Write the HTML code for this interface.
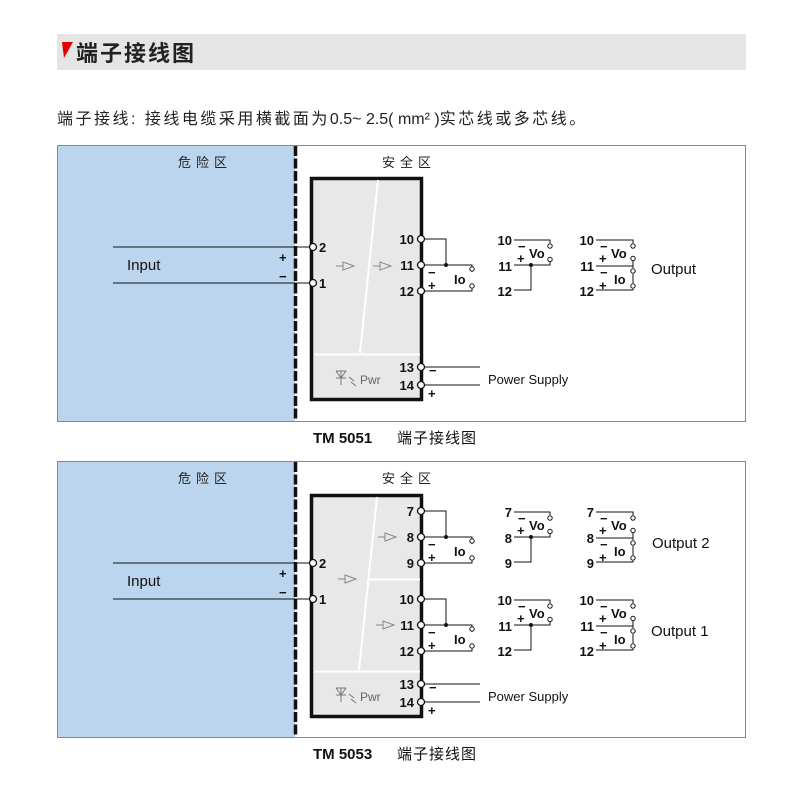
<!DOCTYPE html>
<html><head><meta charset="utf-8"><style>
body{margin:0;background:#fff}
svg{display:block;font-family:"Liberation Sans","Noto Sans CJK SC",sans-serif}
.t{font-size:13px;font-weight:bold;fill:#111}
.s{font-size:13px;font-weight:bold;fill:#111}
</style></head><body>
<svg width="800" height="800" viewBox="0 0 800 800" xmlns="http://www.w3.org/2000/svg">
<defs>
<g id="diagA" stroke="#111" stroke-width="1" fill="none">
 <path d="M514 240H550V243M550 262V265H514M531 265V290H514"/>
 <circle cx="550" cy="246" r="2.2" fill="#fff"/><circle cx="550" cy="259.5" r="2.2" fill="#fff"/>
 <circle cx="531" cy="265" r="2" fill="#111" stroke="none"/>
</g>
<g id="diagB" stroke="#111" stroke-width="1" fill="none">
 <path d="M596 240H633V243M633 261V268M596 266H633M633 274V283M596 290H633V289"/>
 <circle cx="633" cy="246" r="2.2" fill="#fff"/><circle cx="633" cy="258.5" r="2.2" fill="#fff"/>
 <circle cx="633" cy="271" r="2.2" fill="#fff"/><circle cx="633" cy="286" r="2.2" fill="#fff"/>
</g>
<g id="modOut">
 <g stroke="#111" stroke-width="1" fill="none">
  <path d="M424 239H446V265M424 265H472V266M472 272V265M424 291H472V289"/>
  <circle cx="472" cy="269" r="2.2" fill="#fff"/><circle cx="472" cy="286" r="2.2" fill="#fff"/>
  <circle cx="446" cy="265" r="2" fill="#111" stroke="none"/>
  <circle cx="421" cy="239" r="3.5" fill="#fff" stroke-width="1.3"/>
  <circle cx="421" cy="265" r="3.5" fill="#fff" stroke-width="1.3"/>
  <circle cx="421" cy="291" r="3.5" fill="#fff" stroke-width="1.3"/>
 </g>
 <text x="428" y="277" class="t">−</text><text x="428" y="290" class="t">+</text>
 <text x="454" y="284" class="t">Io</text>
 <use href="#diagA"/><use href="#diagB"/>
 <text x="518" y="251" class="t">−</text><text x="517" y="263" class="t">+</text><text x="529" y="258" class="s">Vo</text>
 <text x="600" y="251" class="t">−</text><text x="599" y="263" class="t">+</text><text x="611" y="258" class="s">Vo</text>
 <text x="600" y="277" class="t">−</text><text x="599" y="290" class="t">+</text><text x="614" y="284" class="s">Io</text>
</g>
<g id="amp" stroke="#888" stroke-width="1" fill="none"><path d="M-7 0H0M0 -4L11 0L0 4Z"/></g>
<g id="pwr">
 <g stroke="#111" stroke-width="1" fill="none">
  <path d="M424 367H480M424 385H480"/>
  <circle cx="421" cy="367" r="3.5" fill="#fff" stroke-width="1.3"/>
  <circle cx="421" cy="385" r="3.5" fill="#fff" stroke-width="1.3"/>
 </g>
 <text x="414" y="372" class="t" text-anchor="end">13</text>
 <text x="414" y="390" class="t" text-anchor="end">14</text>
 <text x="429" y="375" class="t">−</text><text x="428" y="398" class="t">+</text>
 <text x="488" y="384" font-size="13" fill="#111">Power Supply</text>
 <g stroke="#777" stroke-width="1" fill="none"><path d="M336 371H346M341 371V385M336 371L341 378L346 371M336 378H346M349 377L354 381M351 382L356 386"/></g>
 <text x="360" y="384" font-size="12" fill="#666">Pwr</text>
</g>
</defs>

<rect x="57" y="34" width="689" height="36" fill="#e5e5e5"/>
<path d="M62 42H73L64 58Z" fill="#e00000"/>
<text x="76" y="61" font-size="22" font-weight="bold" fill="#222" letter-spacing="2">端子接线图</text>
<text x="57" y="124" font-size="16" fill="#222"><tspan letter-spacing="2.5">端子接线: 接线电缆采用横截面为</tspan><tspan>0.5~ 2.5( mm² )</tspan><tspan letter-spacing="2.5">实芯线或多芯线。</tspan></text>

<!-- Panel 1 -->
<rect x="57.5" y="145.5" width="688" height="276" fill="#fff" stroke="#888"/>
<rect x="58" y="146" width="237" height="275" fill="#bcd5ee"/>
<line x1="295.5" y1="146" x2="295.5" y2="421" stroke="#111" stroke-width="3.5" stroke-dasharray="10,2.5"/>
<text x="205" y="167" font-size="13" fill="#222" text-anchor="middle" letter-spacing="5">危险区</text>
<text x="409" y="167" font-size="13" fill="#222" text-anchor="middle" letter-spacing="5">安全区</text>
<rect x="311.5" y="178.5" width="110" height="221" fill="#e8e8e8" stroke="#111" stroke-width="3.5"/>
<path d="M378 180L360 353M314 354.5H420" stroke="#fff" stroke-width="2" fill="none"/>
<path d="M113 247H311M113 283H311" stroke="#111" stroke-width="1"/>
<circle cx="313" cy="247" r="3.5" fill="#fff" stroke="#111" stroke-width="1.3"/>
<circle cx="313" cy="283" r="3.5" fill="#fff" stroke="#111" stroke-width="1.3"/>
<text x="319" y="252" class="t">2</text><text x="319" y="288" class="t">1</text>
<text x="279" y="262" class="t">+</text><text x="279" y="281" class="t">−</text>
<text x="127" y="270" font-size="15" fill="#111">Input</text>
<use href="#amp" x="343" y="266"/><use href="#amp" x="380" y="266"/>
<text x="414" y="244" class="t" text-anchor="end">10</text>
<text x="414" y="270" class="t" text-anchor="end">11</text>
<text x="414" y="296" class="t" text-anchor="end">12</text>
<use href="#modOut"/>
<text x="512" y="245" class="t" text-anchor="end">10</text>
<text x="512" y="271" class="t" text-anchor="end">11</text>
<text x="512" y="296" class="t" text-anchor="end">12</text>
<text x="594" y="245" class="t" text-anchor="end">10</text>
<text x="594" y="271" class="t" text-anchor="end">11</text>
<text x="594" y="296" class="t" text-anchor="end">12</text>
<text x="651" y="274" font-size="15" fill="#111">Output</text>
<use href="#pwr"/>
<text x="313" y="443" font-size="15" font-weight="bold" fill="#111">TM 5051</text>
<text x="397" y="443" font-size="15" fill="#111" letter-spacing="1">端子接线图</text>

<!-- Panel 2 -->
<rect x="57.5" y="461.5" width="688" height="276" fill="#fff" stroke="#888"/>
<rect x="58" y="462" width="237" height="275" fill="#bcd5ee"/>
<line x1="295.5" y1="462" x2="295.5" y2="737" stroke="#111" stroke-width="3.5" stroke-dasharray="10,2.5"/>
<text x="205" y="483" font-size="13" fill="#222" text-anchor="middle" letter-spacing="5">危险区</text>
<text x="409" y="483" font-size="13" fill="#222" text-anchor="middle" letter-spacing="5">安全区</text>
<rect x="311.5" y="495.5" width="110" height="221" fill="#e8e8e8" stroke="#111" stroke-width="3.5"/>
<path d="M377 497L359 670M314 671.5H420M368 579.5H420" stroke="#fff" stroke-width="2" fill="none"/>
<path d="M113 563H311M113 599H311" stroke="#111" stroke-width="1"/>
<circle cx="313" cy="563" r="3.5" fill="#fff" stroke="#111" stroke-width="1.3"/>
<circle cx="313" cy="599" r="3.5" fill="#fff" stroke="#111" stroke-width="1.3"/>
<text x="319" y="568" class="t">2</text><text x="319" y="604" class="t">1</text>
<text x="279" y="578" class="t">+</text><text x="279" y="597" class="t">−</text>
<text x="127" y="586" font-size="15" fill="#111">Input</text>
<use href="#amp" x="345" y="579"/><use href="#amp" x="385" y="537"/><use href="#amp" x="383" y="625"/>
<g transform="translate(0,272)"><use href="#modOut"/></g>
<g transform="translate(0,360)"><use href="#modOut"/></g>
<text x="414" y="516" class="t" text-anchor="end">7</text>
<text x="414" y="542" class="t" text-anchor="end">8</text>
<text x="414" y="568" class="t" text-anchor="end">9</text>
<text x="414" y="604" class="t" text-anchor="end">10</text>
<text x="414" y="630" class="t" text-anchor="end">11</text>
<text x="414" y="656" class="t" text-anchor="end">12</text>
<text x="512" y="517" class="t" text-anchor="end">7</text>
<text x="512" y="543" class="t" text-anchor="end">8</text>
<text x="512" y="568" class="t" text-anchor="end">9</text>
<text x="594" y="517" class="t" text-anchor="end">7</text>
<text x="594" y="543" class="t" text-anchor="end">8</text>
<text x="594" y="568" class="t" text-anchor="end">9</text>
<text x="512" y="605" class="t" text-anchor="end">10</text>
<text x="512" y="631" class="t" text-anchor="end">11</text>
<text x="512" y="656" class="t" text-anchor="end">12</text>
<text x="594" y="605" class="t" text-anchor="end">10</text>
<text x="594" y="631" class="t" text-anchor="end">11</text>
<text x="594" y="656" class="t" text-anchor="end">12</text>
<text x="652" y="548" font-size="15" fill="#111">Output 2</text>
<text x="651" y="636" font-size="15" fill="#111">Output 1</text>
<g transform="translate(0,317)"><use href="#pwr"/></g>
<text x="313" y="759" font-size="15" font-weight="bold" fill="#111">TM 5053</text>
<text x="397" y="759" font-size="15" fill="#111" letter-spacing="1">端子接线图</text>
</svg>
</body></html>
